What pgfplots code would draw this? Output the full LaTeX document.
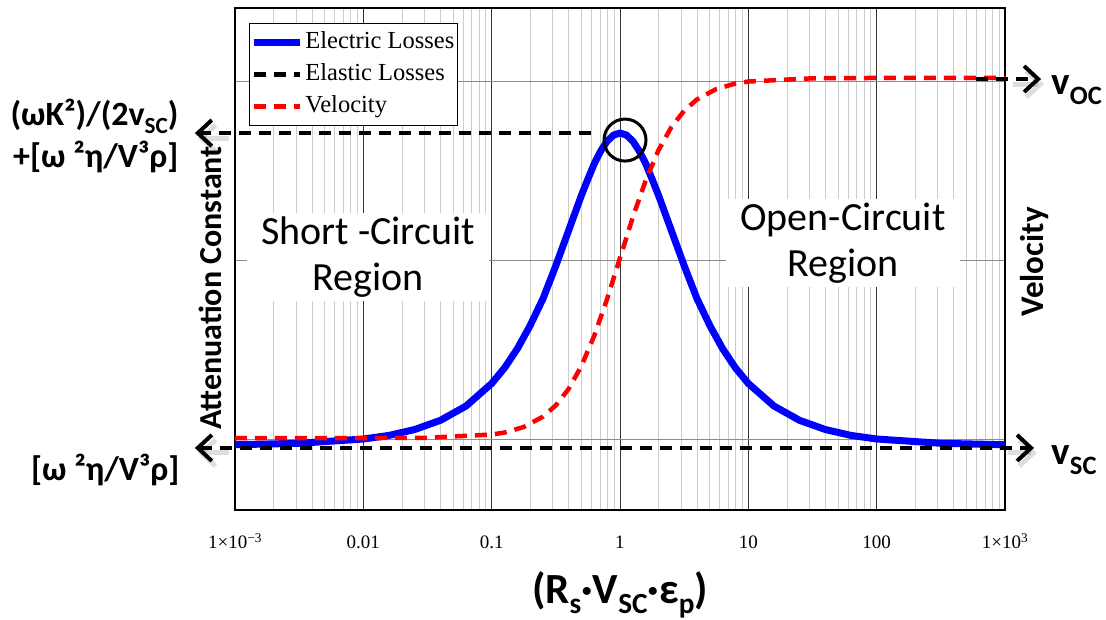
\documentclass[border=0pt]{standalone}
\usepackage{fontspec}
\setmainfont{Carlito}
\newfontfamily\tnr{Liberation Serif}
\usepackage{graphicx}
\usepackage{pgfplots}
\pgfplotsset{compat=1.18}
\usetikzlibrary{arrows.meta}
\newcommand{\lo}[1]{\raisebox{-0.24em}{\scalebox{0.68}{#1}}}
\tikzset{
  blk/.style={black, line width=4.5pt, dash pattern=on 12pt off 8pt},
  redd/.style={red, line width=4.5pt, dash pattern=on 12pt off 8pt},
  barb/.style={-{Straight Barb[length=14pt,width=26pt,line width=4pt]}},
  shad/.style={black, opacity=0.13, line width=5pt, -{Straight Barb[length=14pt,width=26pt,line width=5pt]}},
}
\begin{document}
\begin{tikzpicture}
\useasboundingbox (-235pt,-110pt) rectangle (871pt,510pt);
\begin{axis}[
  at={(0,0)}, anchor=south west,
  scale only axis, width=770pt, height=502pt,
  xmode=log, log basis x=10,
  xmin=1e-3, xmax=1e3, ymin=-0.3966, ymax=2.4078,
  xtick={1e-3,1e-2,0.1,1,10,100,1000},
  xticklabels={{1×10\textsuperscript{−3}},0.01,0.1,1,10,100,{1×10\textsuperscript{3}}},
  minor xtick={2e-3,3e-3,4e-3,5e-3,6e-3,7e-3,8e-3,9e-3,0.02,0.03,0.04,0.05,0.06,0.07,0.08,0.09,0.2,0.3,0.4,0.5,0.6,0.7,0.8,0.9,2,3,4,5,6,7,8,9,20,30,40,50,60,70,80,90,200,300,400,500,600,700,800,900},
  ytick={0,1,2}, yticklabels={},
  xmajorgrids, xminorgrids, ymajorgrids,
  major x grid style={black!80, line width=0.8pt},
  minor x grid style={black!20, line width=0.9pt},
  major y grid style={black!45, line width=0.9pt},
  tick style={draw=none},
  xticklabel style={font=\tnr\fontsize{19}{19}\selectfont, anchor=base, yshift=-39pt},
  axis line style={line width=1.3pt},
  clip=false,
  legend style={at={(rel axis cs:0.018,0.970)}, anchor=north west, draw=black, line width=1pt,
    inner xsep=1pt, inner ysep=5pt, row sep=4pt,
    font=\tnr\fontsize{24.5}{26}\selectfont,
    nodes={inner sep=2pt, text height=18pt, text depth=6pt}},
  legend cell align=left,
  legend image code/.code={\draw[#1] (0pt,0pt) -- (46pt,0pt);},
]
% Electric losses
\addplot[blue, line width=7pt, line join=round] coordinates {
(0.001,-0.032) (0.003162,-0.024) (0.01,0.000) (0.01585,0.020) (0.02512,0.053)
(0.03981,0.104) (0.06310,0.184) (0.1,0.310) (0.1259,0.397) (0.1585,0.504)
(0.1995,0.634) (0.2512,0.784) (0.3162,0.968) (0.3981,1.165) (0.5012,1.362)
(0.5623,1.452) (0.6310,1.539) (0.7079,1.609) (0.7943,1.664) (0.8913,1.698)
(1,1.709) (1.122,1.698) (1.259,1.664) (1.413,1.609) (1.585,1.539) (1.778,1.452)
(1.995,1.362) (2.512,1.165) (3.162,0.968) (3.981,0.784) (5.012,0.634)
(6.310,0.504) (7.943,0.397) (10,0.310) (15.85,0.184) (25.12,0.104)
(39.81,0.053) (63.10,0.020) (100,0.000) (316.2,-0.024) (1000,-0.032)};
\addlegendentry{Electric Losses\hspace{10pt}}
\addlegendimage{blk}
\addlegendentry{Elastic Losses}
% Velocity
\addplot[redd] coordinates {
(0.001,0.005) (0.01,0.005) (0.03162,0.007) (0.1,0.025) (0.1259,0.036)
(0.1778,0.067) (0.2512,0.125) (0.3162,0.188) (0.3981,0.280) (0.5012,0.409)
(0.6310,0.578) (0.7943,0.783) (1,1.011) (1.259,1.239) (1.585,1.444)
(1.995,1.613) (2.512,1.742) (3.162,1.834) (3.981,1.897) (5.623,1.955)
(7.943,1.986) (10,1.997) (31.62,2.015) (100,2.017) (1000,2.017)};
\addlegendentry{Velocity}
% shadows of annotation arrow tips
\draw[shad] ([shift={(3pt,-5pt)}]axis cs:0.00085,1.709) -- ([shift={(3pt,-5pt)}]axis cs:0.000487,1.709);
\draw[shad] ([shift={(3pt,-5pt)}]axis cs:0.00085,-0.05) -- ([shift={(3pt,-5pt)}]axis cs:0.000487,-0.05);
\draw[shad] ([shift={(3pt,-5pt)}]axis cs:1100,2.011) -- ([shift={(3pt,-5pt)}]axis cs:1910,2.011);
\draw[shad] ([shift={(3pt,-5pt)}]axis cs:1000,-0.05) -- ([shift={(3pt,-5pt)}]axis cs:1683,-0.05);
% Elastic losses line with arrows
\addplot[blk, forget plot, {Straight Barb[length=14pt,width=26pt,line width=4pt]}-{Straight Barb[length=14pt,width=26pt,line width=4pt]}] coordinates {(0.000487,-0.05) (1683,-0.05)};
\draw[blk, barb] (axis cs:0.59,1.709) -- (axis cs:0.000487,1.709);
\draw[blk, barb] (axis cs:594,2.011) -- (axis cs:1910,2.011);
\draw[line width=3pt] (axis cs:1.094,1.670) circle[radius=21pt];
\end{axis}
\node[fill=white, align=center, inner xsep=14pt, inner ysep=4pt, font=\fontsize{40}{46}\selectfont] at (133pt,253pt) {Short -Circuit\\Region};
\node[fill=white, align=center, inner xsep=14pt, inner ysep=4pt, font=\fontsize{40}{46}\selectfont] at (608pt,267pt) {Open-Circuit\\Region};
\node[rotate=90, font=\bfseries\fontsize{32}{32}\selectfont] at (-25pt,222pt) {Attenuation Constant};
\node[rotate=90, font=\bfseries\fontsize{33}{33}\selectfont] at (800pt,248pt) {Velocity};
\node[anchor=east, font=\bfseries\fontsize{34}{34}\selectfont] at (-53pt,394pt) {(ωK²)/(2v\lo{SC})};
\node[anchor=east, font=\bfseries\fontsize{34}{34}\selectfont] at (-53pt,353pt) {+[ω ²η/V³ρ]};
\node[anchor=east, font=\bfseries\fontsize{34}{34}\selectfont] at (-52pt,40pt) {[ω ²η/V³ρ]};
\node[anchor=west, font=\bfseries\fontsize{39}{39}\selectfont] at (813pt,420pt) {v\lo{OC}};
\node[anchor=west, font=\bfseries\fontsize{39}{39}\selectfont] at (813pt,50pt) {v\lo{SC}};
\node[font=\bfseries\fontsize{43}{43}\selectfont] at (385pt,-85pt) {(R\lo{s}·V\lo{SC}·ε\lo{p})};
\end{tikzpicture}
\end{document}
